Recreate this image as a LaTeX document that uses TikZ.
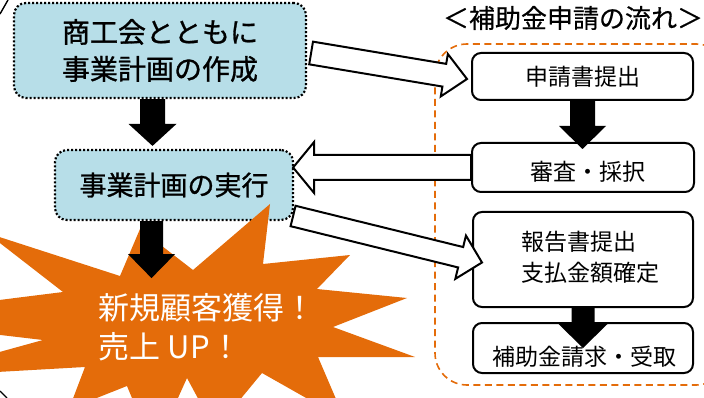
\documentclass[tikz,border=0pt]{standalone}
\usepackage{fontspec}
\setmainfont{Noto Sans CJK JP}
\newfontfamily\medfont[FakeBold=1.0]{Noto Sans CJK JP}
\newfontfamily\semifont[FakeBold=0.5]{Noto Sans CJK JP}
\usetikzlibrary{calc}
\definecolor{boxblue}{HTML}{B7DEE8}
\definecolor{burst}{HTML}{E46C0A}
\newcommand{\blockarrow}[6]{%
  \coordinate (bab) at ($(#3)!#6!(#2)$);
  \draw[#1] ($(#2)!#4!90:(#3)$) -- ($(bab)!#4!90:(#3)$) -- ($(bab)!#5!90:(#3)$) -- (#3)
    -- ($(bab)!#5!-90:(#3)$) -- ($(bab)!#4!-90:(#3)$) -- ($(#2)!#4!-90:(#3)$) -- cycle;}
\tikzset{
  plan/.style={draw=black, fill=boxblue, line width=2.2pt, dash pattern=on 2pt off 2pt,
    rounded corners=12pt, inner sep=0pt, align=center, text=black},
  stepbox/.style={draw=black, fill=white, line width=2pt, rounded corners=9pt, inner sep=0pt,
    align=center, font=\fontsize{23pt}{32pt}\selectfont},
  hollow/.style={draw=black, fill=white, line width=2pt, line join=miter},
  solid/.style={fill=black, draw=none},
}
\begin{document}
\begin{tikzpicture}[x=1pt,y=-1pt]
\useasboundingbox (0,0) rectangle (704,398);
% flow frame
\draw[burst, line width=1.6pt, dash pattern=on 7pt off 4.5pt, rounded corners=32pt]
  (435,44) rectangle (728,385);
% frame bits at the left edge
\draw[line width=1.4pt] (0,14) -- (8,0);
\draw[line width=1.4pt] (0,391) -- (7,398);
% planning boxes
\node[plan, minimum width=292pt, minimum height=95pt, font=\medfont\fontsize{28pt}{37pt}\selectfont]
  (plan) at (160,50.5) {商工会とともに\\事業計画の作成};
\node[plan, minimum width=238pt, minimum height=70pt, font=\medfont\fontsize{27pt}{34pt}\selectfont]
  (exec) at (174,185) {事業計画の実行};
% flow boxes
\node[stepbox, minimum width=221pt, minimum height=47pt] (apply) at (582.5,76.5) {申請書提出};
\node[stepbox, minimum width=222pt, minimum height=49pt] (review) at (583,167.5)
  {\raisebox{-13pt}[0pt][0pt]{\hspace*{10pt}審査・採択}};
\node[stepbox, minimum width=220pt, minimum height=95pt] (report) at (583,259.5)
  {\hspace*{14pt}\begin{tabular}{@{}l@{}}報告書提出\\[-1pt]支払金額確定\end{tabular}};
\node[stepbox, minimum width=220pt, minimum height=50pt] (claim) at (583,348)
  {\raisebox{-17pt}[0pt][0pt]{\hspace*{2pt}補助金請求・受取}};
% starburst
\begin{scope}
\clip (0,0) rectangle (704,398);
\fill[burst] (270,204) -- (263,264) -- (350,255) -- (317,289) -- (407,298) -- (333,327)
  -- (415,357) -- (318,357) -- (345,420) -- (262,373) -- (215,430) -- (187,378)
  -- (154,451) -- (127,386) -- (69,409) -- (85,367) -- (-91,377) -- (43,340)
  -- (-144,318) -- (63,292) -- (-13,233) -- (120,276) -- (140,229) -- (193,270) -- cycle;
\end{scope}
\node[anchor=west, align=left, text=white, inner sep=0pt, font=\fontsize{31pt}{39pt}\selectfont]
  (result) at (98,327.5) {新規顧客獲得！\\売上 U\kern1ptP！};
% solid arrows
\coordinate (k1s) at ($(plan.south)+(-7.5,0)$);
\coordinate (k1t) at ($(k1s |- exec.north)+(0,-3)$);
\blockarrow{solid}{k1s}{k1t}{12.5pt}{24pt}{22pt}
\coordinate (k2s) at ($(exec.south)+(-22.5,0)$);
\coordinate (k2t) at ($(k2s)+(0,57)$);
\blockarrow{solid}{k2s}{k2t}{11.5pt}{23.5pt}{24pt}
\coordinate (k3t) at ($(apply.south)+(0,48)$);
\blockarrow{solid}{apply.south}{k3t}{12.5pt}{23.5pt}{23pt}
\coordinate (k4t) at ($(report.south)+(0,40)$);
\blockarrow{solid}{report.south}{k4t}{11.5pt}{24.5pt}{24pt}
% hollow arrows
\coordinate (h1s) at ($(plan.east)+(4,2.5)$);
\coordinate (h1t) at ($(apply.west)+(-4,2.5)$);
\blockarrow{hollow}{h1s}{h1t}{11.5pt}{21.5pt}{23pt}
\coordinate (h2t) at ($(review.west -| exec.east)+(-1,0)$);
\blockarrow{hollow}{review.west}{h2t}{12.5pt}{25.5pt}{21pt}
\coordinate (h3s) at ($(exec.east)+(-1,31)$);
\coordinate (h3t) at ($(report.west)+(10,3)$);
\blockarrow{hollow}{h3s}{h3t}{10.5pt}{22.3pt}{22pt}
% title
\node[inner sep=0pt, font=\semifont\fontsize{26pt}{30pt}\selectfont] (title) at (573,18) {＜補助金申請の流れ＞};
\end{tikzpicture}
\end{document}
